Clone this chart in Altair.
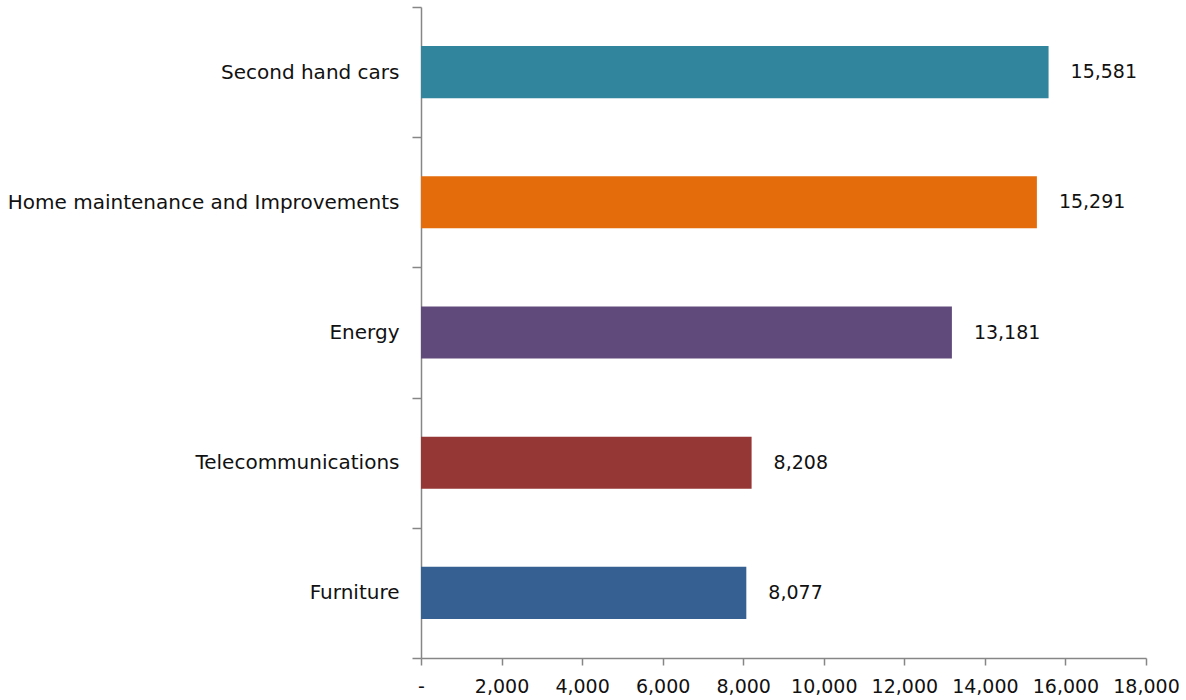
import altair as alt
import pandas as pd

categories = ["Second hand cars", "Home maintenance and Improvements", "Energy",
              "Telecommunications", "Furniture"]
values = [15581, 15291, 13181, 8208, 8077]
colors = ["#31859C", "#E46C0A", "#604A7B", "#953735", "#376092"]
x_ticks = [0, 2000, 4000, 6000, 8000, 10000, 12000, 14000, 16000, 18000]

df = pd.DataFrame({"category": categories, "value": values})

FONT = "DejaVu Sans"
FS = 19
AXIS_GRAY = "#868686"

y_enc = alt.Y(
    "category:N",
    sort=categories,
    scale=alt.Scale(paddingInner=0, paddingOuter=0),
    axis=alt.Axis(
        title=None,
        grid=False,
        tickBand="extent",
        tickSize=9,
        tickColor=AXIS_GRAY,
        tickWidth=1.5,
        domainColor=AXIS_GRAY,
        domainWidth=1.5,
        labelPadding=13,
        labelFont=FONT,
        labelFontSize=20,
        labelColor="#111111",
        labelLimit=500,
    ),
)

x_enc = alt.X(
    "value:Q",
    scale=alt.Scale(domain=[0, 18000], nice=False),
    axis=alt.Axis(
        title=None,
        values=x_ticks,
        grid=False,
        tickSize=7,
        tickColor=AXIS_GRAY,
        tickWidth=1.5,
        domainColor=AXIS_GRAY,
        domainWidth=1.5,
        labelPadding=12,
        labelFont=FONT,
        labelFontSize=FS,
        labelColor="#111111",
        labelExpr="datum.value == 0 ? '-' : format(datum.value, ',')",
        labelFlush=False,
        labelOverlap=False,
    ),
)

base = alt.Chart(df).encode(y=y_enc)

bars = base.mark_bar(height={"band": 0.4}).encode(
    x=x_enc,
    color=alt.Color("category:N", scale=alt.Scale(domain=categories, range=colors), legend=None),
)

labels = base.mark_text(align="left", baseline="middle", dx=22, font=FONT,
                        fontSize=FS, color="#111111").encode(
    x=alt.X("value:Q"),
    text=alt.Text("value:Q", format=","),
)

chart = (
    alt.layer(bars, labels)
    .properties(
        width=725,
        height=651,
        autosize=alt.AutoSizeParams(type="none"),
        padding={"left": 421, "top": 7, "right": 40, "bottom": 42},
        view=alt.ViewBackground(strokeWidth=0, strokeOpacity=0),
    )
    .configure_view(strokeWidth=0, strokeOpacity=0)
    .configure_axis(grid=False)
    .configure(background="white")
)

chart.save("out.html", embed_options={"renderer": "svg", "actions": False})
